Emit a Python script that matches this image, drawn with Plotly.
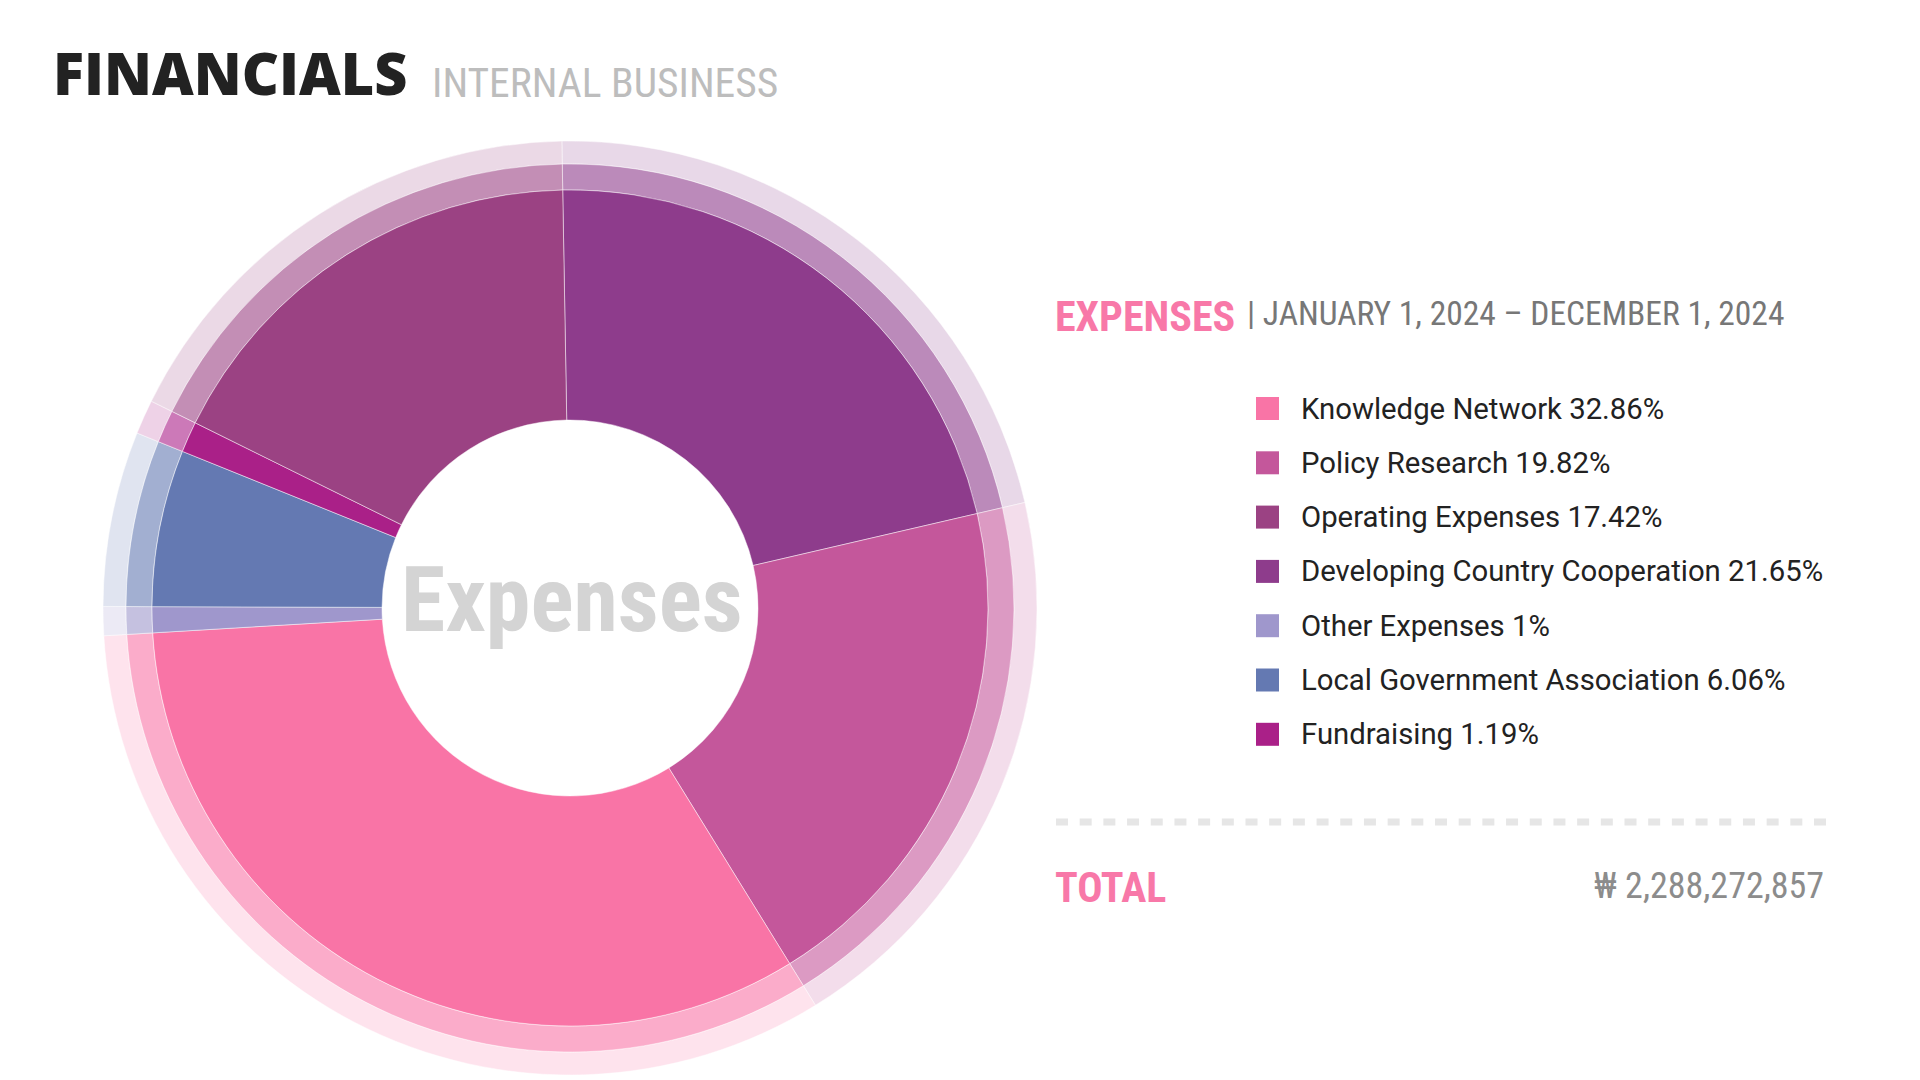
import plotly.graph_objects as go

# slices in drawing order, clockwise from 12 o'clock
categories = ["Developing Country Cooperation", "Policy Research", "Knowledge Network",
              "Other Expenses", "Local Government Association", "Fundraising",
              "Operating Expenses"]
shares = [21.65, 19.82, 32.86, 1, 6.06, 1.19, 17.42]
colors = ["#8E3C8C", "#C4579B", "#F974A6", "#9F97CC", "#6479B2", "#AA2088", "#9B4283"]

# order of the list on the right
legend_order = ["Knowledge Network", "Policy Research", "Operating Expenses",
                "Developing Country Cooperation", "Other Expenses",
                "Local Government Association", "Fundraising"]

title_text = "FINANCIALS"
subtitle_text = "INTERNAL BUSINESS"
section_text = "EXPENSES"
period_text = "| JANUARY 1, 2024 – DECEMBER 1, 2024"
total_text = "TOTAL"
total_value = "₩ 2,288,272,857"
center_text = "Expenses"

W, H = 1920, 1080
OFF = 8  # page body margin
CX, CY = 570 - OFF, 608 - OFF
PINK = "#F878A8"
NARROW = "Roboto Condensed, Liberation Sans Narrow, Arial Narrow, Roboto, sans-serif"


def rgba(hexcolor, alpha):
    h = hexcolor.lstrip("#")
    r, g, b = (int(h[i:i + 2], 16) for i in (0, 2, 4))
    return f"rgba({r},{g},{b},{alpha})"


def pie_domain(r):
    return dict(x=[(CX - r) / W, (CX + r) / W],
                y=[(H - CY - r) / H, (H - CY + r) / H])


def px(x):
    return (x - OFF) / W


def py(y):
    return 1 - (y - OFF) / H


fig = go.Figure()

# two pale rings around the main donut
for outer, inner, alpha in [(467, 444, 0.2), (444, 418, 0.6)]:
    fig.add_trace(go.Pie(
        labels=categories, values=shares, sort=False, direction="clockwise", rotation=-1,
        domain=pie_domain(outer), hole=inner / outer,
        marker=dict(colors=[rgba(c, alpha) for c in colors],
                    line=dict(color="rgba(255,255,255,0.6)", width=0.8)),
        textinfo="none", hoverinfo="skip", showlegend=False))

fig.add_trace(go.Pie(
    labels=categories, values=shares, sort=False, direction="clockwise", rotation=-1,
    domain=pie_domain(418), hole=188 / 418,
    marker=dict(colors=colors, line=dict(color="rgba(255,255,255,0.6)", width=0.8)),
    textinfo="none", hovertemplate="%{label}: %{value}%<extra></extra>", showlegend=False))

# legend squares on a hidden axis, one row per category
color_of = dict(zip(categories, colors))
share_of = dict(zip(categories, shares))
rows = list(range(len(legend_order)))
fig.add_trace(go.Scatter(
    x=[11.5] * len(rows), y=rows, mode="markers", cliponaxis=False,
    marker=dict(symbol="square", size=23, color=[color_of[n] for n in legend_order],
                line=dict(width=0)),
    hoverinfo="skip", showlegend=False))

annotations = []
for i, name in enumerate(legend_order):
    annotations.append(dict(
        x=43, y=i, xref="x", yref="y", xanchor="left", yanchor="middle", showarrow=False,
        text=f"{name} {share_of[name]:g}%",
        font=dict(family="Roboto", size=29.3, color="#222222")))

annotations += [
    dict(x=px(572), y=py(600.5), text=center_text, xanchor="center",
         font=dict(family="Roboto Condensed, Liberation Sans Narrow, sans-serif",
                   size=90, color="#D4D4D4", weight="bold")),
    dict(x=px(51), y=py(72.5), text=title_text, xanchor="left",
         font=dict(family="Open Sans", size=57.5, color="#222222", weight=800)),
    dict(x=px(430), y=py(82), text=subtitle_text, xanchor="left",
         font=dict(family=NARROW, size=41.5, color="#BDBDBD")),
    dict(x=px(1053), y=py(316), text=section_text, xanchor="left",
         font=dict(family=NARROW, size=42, color=PINK, weight="bold")),
    dict(x=px(1245), y=py(313), text=period_text, xanchor="left",
         font=dict(family=NARROW, size=33.5, color="#777777")),
    dict(x=px(1053), y=py(887.5), text=total_text, xanchor="left",
         font=dict(family=NARROW, size=42, color=PINK, weight="bold")),
    dict(x=px(1826), y=py(886), text=total_value, xanchor="right",
         font=dict(family=NARROW, size=36, color="#8C8C8C")),
]
for a in annotations[len(legend_order):]:
    a.update(xref="paper", yref="paper", yanchor="middle", showarrow=False)

fig.update_layout(
    width=W, height=H,
    margin=dict(l=0, r=0, t=0, b=0),
    paper_bgcolor="white", plot_bgcolor="white",
    showlegend=False,
    annotations=annotations,
    shapes=[dict(type="line", xref="paper", yref="paper",
                 x0=px(1056), x1=px(1826), y0=py(822), y1=py(822),
                 line=dict(color="#E6E6E6", width=7, dash="12px,11.6875px"))],
    xaxis=dict(domain=[px(1256), px(1900)], range=[0, 644], visible=False, fixedrange=True),
    yaxis=dict(domain=[py(761.45), py(381.35)], range=[6.5, -0.5], visible=False, fixedrange=True),
)

fig.write_html("out.html", config={"displayModeBar": False})
